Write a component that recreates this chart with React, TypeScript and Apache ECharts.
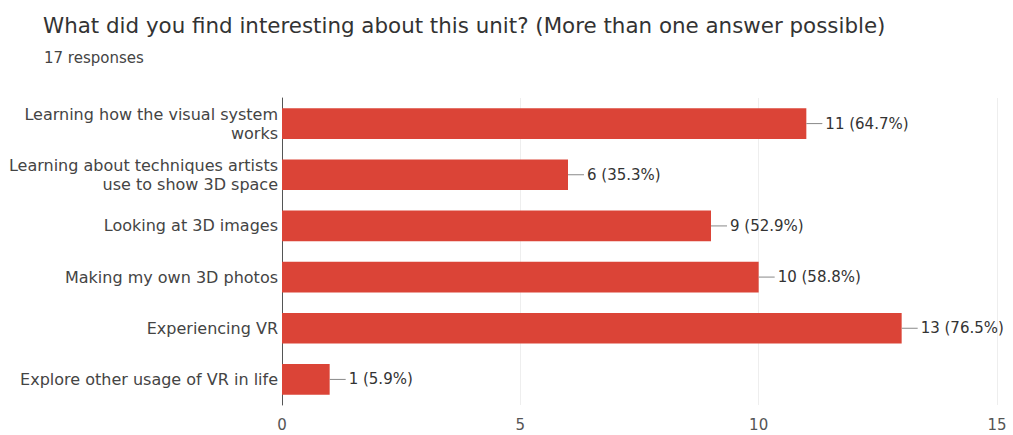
import React, { useEffect, useRef } from "react";
import * as echarts from "echarts";

const categories = [
  "Learning how the visual system\nworks",
  "Learning about techniques artists\nuse to show 3D space",
  "Looking at 3D images",
  "Making my own 3D photos",
  "Experiencing VR",
  "Explore other usage of VR in life",
];
const values = [11, 6, 9, 10, 13, 1];
const totalResponses = 17;
const xTicks = [0, 5, 10, 15];

const FONT = "DejaVu Sans";

export default function App() {
  const ref = useRef<HTMLDivElement>(null);
  useEffect(() => {
    if (!ref.current) return;
    const chart = echarts.init(ref.current, null, { renderer: "svg" });
    chart.setOption({
      animation: false,
      backgroundColor: "#ffffff",
      title: [
        {
          text: "What did you find interesting about this unit? (More than one answer possible)",
          left: 38,
          top: 10,
          textStyle: { fontFamily: FONT, fontSize: 21.4, fontWeight: "normal", color: "#333" },
        },
        {
          text: `${totalResponses} responses`,
          left: 39,
          top: 45,
          textStyle: { fontFamily: FONT, fontSize: 15, fontWeight: "normal", color: "#444" },
        },
      ],
      grid: { left: 282, right: 16, top: 98, bottom: 30, containLabel: false },
      xAxis: {
        type: "value",
        min: xTicks[0],
        max: xTicks[xTicks.length - 1],
        interval: 5,
        axisLine: { show: false },
        axisTick: { show: false },
        splitLine: { show: true, lineStyle: { color: "#eeeeee" } },
        axisLabel: { fontFamily: FONT, fontSize: 15, color: "#555", margin: 12 },
      },
      yAxis: {
        type: "category",
        inverse: true,
        data: categories,
        axisLine: { show: true, lineStyle: { color: "#555" } },
        axisTick: { show: false },
        axisLabel: {
          fontFamily: FONT,
          fontSize: 16,
          color: "#444",
          margin: 4,
          align: "right",
          lineHeight: 19,
        },
      },
      series: [
        {
          type: "bar",
          data: values,
          barWidth: "60%",
          itemStyle: { color: "#db4437" },
          label: {
            show: true,
            position: "right",
            distance: 0,
            formatter: (p: any) =>
              `{ln|}{v|${p.value} (${((p.value / totalResponses) * 100).toFixed(1)}%)}`,
            rich: {
              ln: { width: 16, height: 1, backgroundColor: "#888" },
              v: { fontFamily: FONT, fontSize: 15, color: "#333", padding: [0, 0, 0, 3] },
            },
          },
        },
      ],
    });
    return () => chart.dispose();
  }, []);
  return (
    <div
      ref={ref}
      style={{ position: "fixed", left: 0, top: 0, width: 1013, height: 435 }}
    />
  );
}
